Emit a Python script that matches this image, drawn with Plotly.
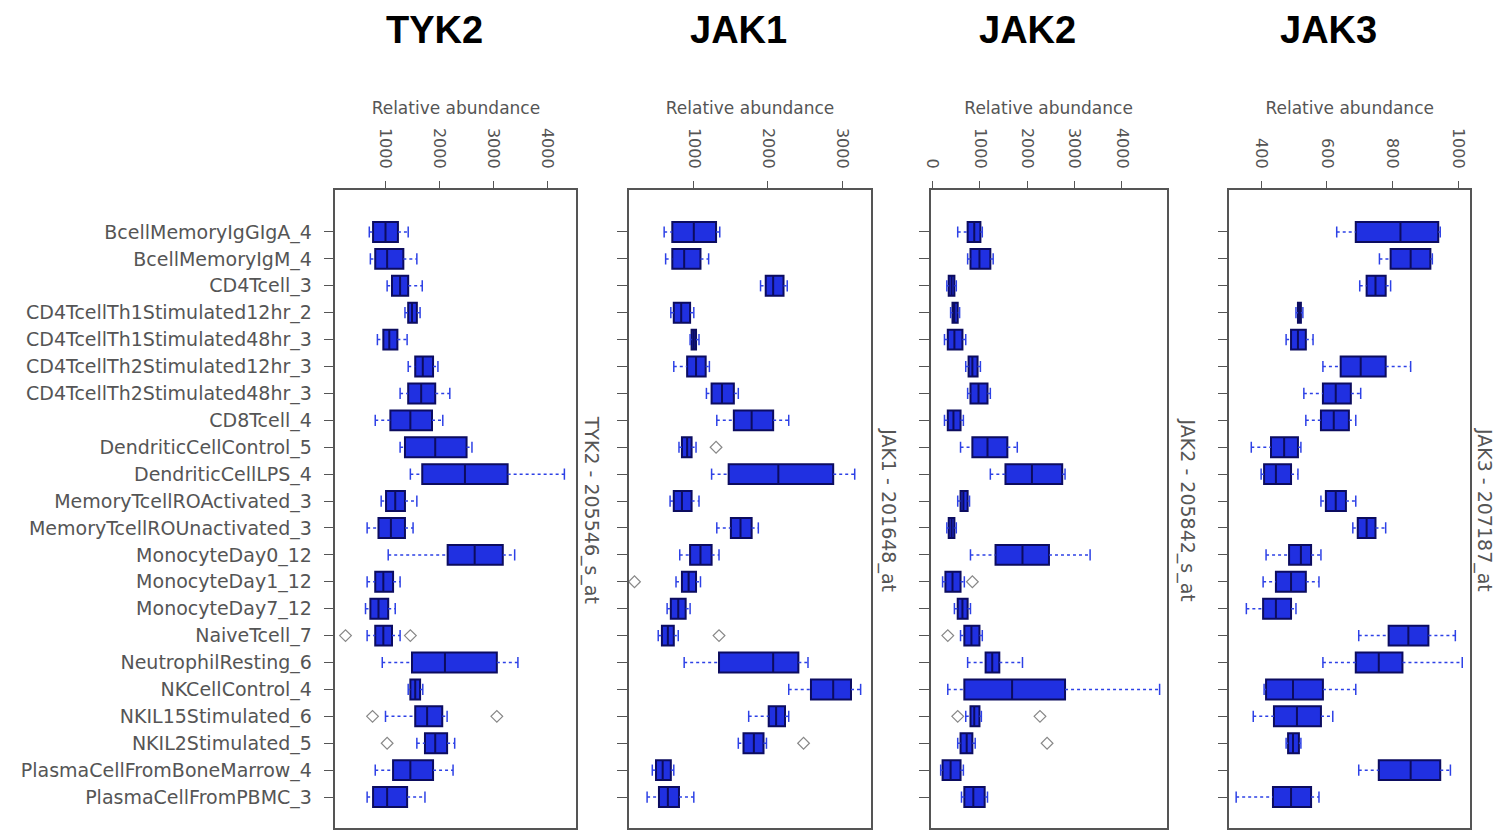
import plotly.graph_objects as go

cells = ["BcellMemoryIgGIgA_4", "BcellMemoryIgM_4", "CD4Tcell_3",
         "CD4TcellTh1Stimulated12hr_2", "CD4TcellTh1Stimulated48hr_3",
         "CD4TcellTh2Stimulated12hr_3", "CD4TcellTh2Stimulated48hr_3",
         "CD8Tcell_4", "DendriticCellControl_5", "DendriticCellLPS_4",
         "MemoryTcellROActivated_3", "MemoryTcellROUnactivated_3",
         "MonocyteDay0_12", "MonocyteDay1_12", "MonocyteDay7_12",
         "NaiveTcell_7", "NeutrophilResting_6", "NKCellControl_4",
         "NKIL15Stimulated_6", "NKIL2Stimulated_5",
         "PlasmaCellFromBoneMarrow_4", "PlasmaCellFromPBMC_3"]

genes = ["TYK2", "JAK1", "JAK2", "JAK3"]
probes = ["TYK2 - 205546_s_at", "JAK1 - 201648_at", "JAK2 - 205842_s_at", "JAK3 - 207187_at"]

# ---- TYK2 ----
tyk2_lo  = [700, 720, 1030, 1360, 850, 1420, 1270, 810, 1270, 1460, 920, 660, 1050, 660, 630, 660, 940, 1420, 1000, 1580, 810, 660]
tyk2_q1  = [770, 810, 1120, 1420, 960, 1550, 1420, 1090, 1360, 1680, 1010, 870, 2150, 810, 720, 810, 1490, 1460, 1550, 1730, 1140, 770]
tyk2_med = [1000, 1030, 1270, 1490, 1070, 1690, 1660, 1460, 1920, 2470, 1180, 1100, 2650, 960, 870, 960, 2100, 1550, 1770, 1920, 1460, 1030]
tyk2_q3  = [1230, 1330, 1420, 1580, 1220, 1880, 1920, 1860, 2500, 3260, 1360, 1360, 3170, 1140, 1050, 1120, 3060, 1640, 2050, 2140, 1880, 1400]
tyk2_hi  = [1420, 1580, 1680, 1640, 1400, 1970, 2190, 2060, 2600, 4310, 1580, 1510, 3390, 1270, 1180, 1270, 3450, 1690, 2140, 2280, 2250, 1730]
tyk2_out_cells = ["NaiveTcell_7", "NaiveTcell_7", "NKIL15Stimulated_6", "NKIL15Stimulated_6", "NKIL2Stimulated_5"]
tyk2_out_vals  = [260, 1460, 760, 3060, 1030]

# ---- JAK1 ----
jak1_lo  = [600, 620, 1900, 690, 950, 730, 1170, 1310, 800, 1240, 680, 1310, 810, 760, 640, 520, 870, 2280, 1740, 1600, 440, 370]
jak1_q1  = [710, 710, 1970, 730, 970, 910, 1240, 1540, 840, 1470, 730, 1500, 950, 840, 690, 570, 1340, 2580, 2010, 1670, 490, 530]
jak1_med = [1000, 870, 2070, 830, 1000, 1030, 1380, 1780, 910, 2140, 840, 1630, 1090, 930, 790, 650, 2070, 2880, 2110, 1810, 580, 650]
jak1_q3  = [1300, 1090, 2210, 950, 1030, 1160, 1540, 2070, 970, 2880, 970, 1780, 1240, 1030, 890, 730, 2410, 3120, 2230, 1940, 690, 800]
jak1_hi  = [1350, 1200, 2260, 1000, 1070, 1210, 1600, 2280, 1030, 3170, 1070, 1870, 1340, 1090, 950, 790, 2540, 3250, 2280, 1980, 730, 1000]
jak1_out_cells = ["DendriticCellControl_5", "MonocyteDay1_12", "NaiveTcell_7", "NKIL2Stimulated_5"]
jak1_out_vals  = [1300, 200, 1340, 2480]

# ---- JAK2 ----
jak2_lo  = [530, 740, 300, 380, 250, 700, 740, 250, 590, 1220, 530, 300, 800, 210, 460, 590, 740, 320, 700, 530, 170, 610]
jak2_q1  = [740, 800, 340, 420, 320, 760, 800, 320, 840, 1540, 590, 340, 1330, 270, 530, 670, 1120, 670, 800, 590, 210, 670]
jak2_med = [880, 990, 400, 460, 460, 840, 970, 440, 1160, 2100, 650, 400, 1900, 420, 630, 820, 1260, 1680, 880, 720, 380, 860]
jak2_q3  = [1010, 1220, 460, 530, 630, 950, 1160, 590, 1580, 2740, 740, 460, 2460, 590, 740, 990, 1410, 2800, 990, 840, 590, 1100]
jak2_hi  = [1050, 1280, 500, 570, 700, 1010, 1220, 650, 1790, 2800, 780, 500, 3330, 670, 800, 1050, 1900, 4800, 1030, 900, 650, 1160]
jak2_out_cells = ["MonocyteDay1_12", "NaiveTcell_7", "NKIL15Stimulated_6", "NKIL15Stimulated_6", "NKIL2Stimulated_5"]
jak2_out_vals  = [840, 320, 530, 2270, 2420]

# ---- JAK3 ----
jak3_lo  = [630, 760, 700, 506, 476, 588, 530, 536, 370, 400, 582, 679, 415, 406, 355, 697, 588, 409, 376, 476, 697, 324]
jak3_q1  = [688, 794, 721, 512, 491, 642, 588, 582, 430, 409, 597, 694, 485, 445, 406, 788, 688, 415, 439, 482, 758, 436]
jak3_med = [824, 855, 748, 515, 512, 703, 627, 621, 470, 445, 627, 721, 521, 491, 445, 848, 758, 497, 509, 497, 855, 491]
jak3_q3  = [939, 915, 779, 521, 536, 779, 673, 667, 512, 491, 658, 748, 552, 536, 491, 909, 830, 588, 582, 515, 945, 552]
jak3_hi  = [945, 921, 794, 527, 558, 855, 703, 688, 521, 512, 688, 779, 582, 576, 506, 991, 1012, 688, 618, 521, 976, 576]
jak3_out_cells = []
jak3_out_vals  = []

panels = [
    (tyk2_lo, tyk2_q1, tyk2_med, tyk2_q3, tyk2_hi, tyk2_out_cells, tyk2_out_vals),
    (jak1_lo, jak1_q1, jak1_med, jak1_q3, jak1_hi, jak1_out_cells, jak1_out_vals),
    (jak2_lo, jak2_q1, jak2_med, jak2_q3, jak2_hi, jak2_out_cells, jak2_out_vals),
    (jak3_lo, jak3_q1, jak3_med, jak3_q3, jak3_hi, jak3_out_cells, jak3_out_vals),
]

x_ranges = [[74, 4531], [127, 3389], [-42, 4947], [303, 1036]]
x_ticks = [[1000, 2000, 3000, 4000], [1000, 2000, 3000], [0, 1000, 2000, 3000, 4000], [400, 600, 800, 1000]]

W, H = 1498, 837
px_left = [330, 625, 928, 1228]
px_right = [572, 868, 1165, 1470]
title_x = [430, 735, 1025, 1328]
probe_x = [588, 886, 1187, 1485]
y_dom = [1 - 828 / H, 1 - 190 / H]

BOX_FILL = "rgb(32,48,225)"
BOX_LINE = "rgb(12,12,95)"
WHISK = "rgb(45,65,230)"
TXT = "#555555"
AX = "#555555"
FONT = "DejaVu Sans"

fig = go.Figure()
layout = dict(width=W, height=H, margin=dict(l=0, r=0, t=0, b=0),
              paper_bgcolor="white", plot_bgcolor="white", showlegend=False,
              annotations=[])

for i, (lo, q1, med, q3, hi, oc, ov) in enumerate(panels):
    xa = "x" if i == 0 else f"x{i+1}"
    ya = "y" if i == 0 else f"y{i+1}"
    fig.add_trace(go.Box(
        y=cells, q1=q1, median=med, q3=q3, lowerfence=q1, upperfence=q3,
        orientation="h", width=0.74, fillcolor=BOX_FILL,
        line=dict(color=BOX_LINE, width=2), whiskerwidth=0,
        boxpoints=False, xaxis=xa, yaxis=ya, hoverinfo="skip"))
    wx, wy = [], []
    for c, a, b, c3, d in zip(cells, lo, q1, q3, hi):
        wx += [a, b, None, c3, d, None]
        wy += [c, c, None, c, c, None]
    fig.add_trace(go.Scatter(x=wx, y=wy, mode="lines",
                             line=dict(color=WHISK, width=1.5, dash="dot"),
                             xaxis=xa, yaxis=ya, hoverinfo="skip"))
    fig.add_trace(go.Scatter(x=list(lo) + list(hi), y=cells + cells, mode="markers",
                             marker=dict(symbol="line-ns-open", size=8, color=WHISK,
                                         line=dict(color=WHISK, width=1.5)),
                             xaxis=xa, yaxis=ya, hoverinfo="skip"))
    if ov:
        fig.add_trace(go.Scatter(x=ov, y=oc, mode="markers",
                                 marker=dict(symbol="diamond-open", size=9, color="#888888",
                                             line=dict(color="#888888", width=1.2)),
                                 xaxis=xa, yaxis=ya, hoverinfo="skip"))
    xkey = "xaxis" if i == 0 else f"xaxis{i+1}"
    ykey = "yaxis" if i == 0 else f"yaxis{i+1}"
    layout[xkey] = dict(domain=[px_left[i] / W, px_right[i] / W], anchor=ya,
                        side="top", range=x_ranges[i], tickvals=x_ticks[i],
                        ticks="outside", ticklen=7, tickcolor=AX, tickangle=90,
                        ticklabelstandoff=7,
                        tickfont=dict(family=FONT, size=16, color=TXT),
                        showline=True, linecolor=AX, linewidth=1.5, mirror=True,
                        showgrid=False, zeroline=False,
                        title=dict(text="Relative abundance", standoff=9,
                                   font=dict(family=FONT, size=17, color=TXT)))
    layout[ykey] = dict(domain=y_dom, anchor=xa, type="category",
                        categoryorder="array", categoryarray=cells,
                        range=[22.15, -1.56], ticks="outside", ticklen=10,
                        tickcolor=AX, showticklabels=(i == 0),
                        ticklabelstandoff=8,
                        tickfont=dict(family=FONT, size=19, color=TXT),
                        showline=True, linecolor=AX, linewidth=1.5, mirror=True,
                        showgrid=False, zeroline=False)
    layout["annotations"].append(dict(
        text=f"<b>{genes[i]}</b>", x=title_x[i] / W, y=1 - 30 / H,
        xref="paper", yref="paper", showarrow=False, xanchor="center", yanchor="middle",
        font=dict(family="Liberation Sans", size=38, color="black")))
    layout["annotations"].append(dict(
        text=probes[i], x=probe_x[i] / W, y=1 - 510 / H, textangle=90,
        xref="paper", yref="paper", showarrow=False, xanchor="center", yanchor="middle",
        font=dict(family=FONT, size=19, color=TXT)))

fig.update_layout(**layout)
fig.write_html("out.html")
